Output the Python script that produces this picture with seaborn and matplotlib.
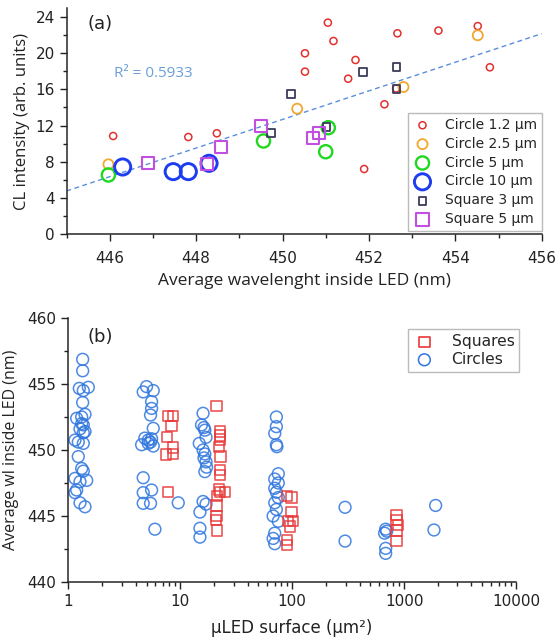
import numpy as np
import pandas as pd
import matplotlib
matplotlib.use("Agg")
import matplotlib.pyplot as plt
from matplotlib.ticker import FixedLocator, LogLocator, NullFormatter, FuncFormatter
import seaborn as sns

# ---------------- panel (a): CL intensity vs average wavelength ----------------
c12_x = [446.08, 447.82, 448.48, 450.52, 450.52, 451.05, 451.18, 451.52, 451.69, 451.89,
         452.36, 452.63, 452.66, 453.61, 454.52, 454.80]
c12_y = [10.84, 10.73, 11.14, 19.99, 17.96, 23.38, 21.35, 17.18, 19.25, 7.19,
         14.35, 16.10, 22.20, 22.50, 23.00, 18.44]
c25_x = [445.97, 450.34, 452.80, 454.52]
c25_y = [7.71, 13.86, 16.26, 21.98]
c5_x = [445.97, 449.56, 451.00, 451.06]
c5_y = [6.53, 10.29, 9.10, 11.76]
c10_x = [446.30, 447.47, 447.82, 448.30]
c10_y = [7.41, 6.90, 6.90, 7.82]
s3_x = [449.73, 450.20, 451.02, 451.87, 452.64, 452.64]
s3_y = [11.14, 15.52, 11.84, 17.92, 18.50, 16.00]
s5_x = [446.89, 448.25, 448.58, 449.51, 450.71, 450.85]
s5_y = [7.89, 7.78, 9.66, 11.95, 10.65, 11.14]

trend_x = [445.0, 456.0]
trend_y = [4.76, 22.16]
r2_text = "R² = 0.5933"

# ---------------- panel (b): average wavelength vs µLED surface ----------------
circ_x = [1.344, 1.344, 1.254, 1.361, 1.51, 1.344, 1.188, 1.317, 1.41, 1.361, 1.272, 1.41, 1.317,
          1.361, 1.148, 1.228, 1.361, 1.228, 1.317, 1.361, 1.148, 1.272, 1.46, 1.188, 1.148,
          1.272, 1.41,
          5.0, 4.67, 5.74, 5.55, 5.55, 5.43, 5.74, 4.83, 5.18, 5.55, 4.52, 5.18, 5.74, 5.43,
          4.67, 4.67, 5.55, 4.67, 5.43, 5.94, 9.6,
          16.0, 15.5, 16.3, 16.6, 17.0, 14.8, 16.0, 16.6, 16.3, 17.0, 17.2, 16.6, 16.0, 17.0,
          15.0, 15.0, 15.0,
          72.3, 72.3, 69.9, 72.3, 73.1, 75.2, 69.9, 75.2, 69.9, 72.3, 75.2, 69.9, 72.3, 67.6,
          75.2, 69.9, 67.6, 69.9,
          297, 297, 685, 700, 670, 685, 685, 1914, 1850]
circ_y = [456.87, 456.0, 454.67, 454.5, 454.75, 453.6, 452.4, 452.5, 452.7, 451.9, 451.6, 451.4,
          452.0, 451.3, 450.75, 450.6, 450.5, 449.5, 448.6, 448.4, 447.85, 447.6, 447.7, 446.97,
          446.77, 446.0, 445.7,
          454.8, 454.4, 454.5, 453.66, 453.15, 452.65, 451.64, 450.9, 450.75, 450.85, 450.4,
          450.5, 450.3, 450.6, 447.9, 446.77, 446.97, 445.96, 445.96, 444.0, 446.0,
          452.78, 451.9, 451.7, 451.5, 450.96, 450.5, 450.0, 449.7, 449.4, 449.1, 448.7, 448.36,
          446.1, 445.9, 445.3, 444.07, 443.4,
          452.5, 451.77, 451.26, 450.4, 450.25, 448.2, 447.8, 447.5, 447.1, 446.8, 446.4, 446.0,
          445.5, 445.0, 444.6, 443.7, 443.3, 442.9,
          445.66, 443.1, 444.0, 443.85, 443.7, 442.55, 442.17, 445.8, 443.94]
sq_x = [7.8, 8.67, 8.38, 7.66, 8.67, 7.45, 8.56, 7.8,
        21.1, 22.6, 22.6, 22.6, 22.3, 22.9, 22.6, 22.6, 22.3, 22.6, 21.3, 25.1, 21.1, 21.1,
        20.8, 21.3,
        90.3, 98.6, 98.6, 92.0, 101.9, 95.5, 90.3, 90.3,
        857, 857, 887, 857, 857]
sq_y = [452.58, 452.58, 451.8, 451.0, 450.2, 449.67, 449.7, 446.84,
        453.33, 451.4, 451.1, 450.8, 450.25, 449.5, 448.5, 448.1, 447.0, 446.8, 446.5, 446.8,
        445.8, 445.0, 444.7, 443.9,
        446.5, 446.4, 445.3, 444.6, 444.6, 444.2, 443.2, 442.8,
        445.1, 444.7, 444.3, 443.9, 443.1]

sns.set_style("ticks")
plt.rcParams["font.family"] = ["DejaVu Sans"]
plt.rcParams["axes.linewidth"] = 1.1
plt.rcParams["xtick.major.width"] = 1.0
plt.rcParams["ytick.major.width"] = 1.0
plt.rcParams["xtick.color"] = "#222222"
plt.rcParams["ytick.color"] = "#222222"

fig = plt.figure(figsize=(5.6, 6.41), dpi=100)
ax1 = fig.add_axes([66.5 / 560, 1 - 234 / 641, 475.2 / 560, 226 / 641])
ax2 = fig.add_axes([68.3 / 560, 1 - 582 / 641, 447.7 / 560, 264 / 641])

# series for panel (a): (x, y, label, marker, color, size, linewidth)
series_a = [
    (c12_x, c12_y, "Circle 1.2 µm", "o", "#e2302f", 26, 1.1),
    (c25_x, c25_y, "Circle 2.5 µm", "o", "#f0a830", 52, 1.3),
    (c5_x, c5_y, "Circle 5 µm", "o", "#1fd81f", 90, 1.7),
    (c10_x, c10_y, "Circle 10 µm", "o", "#1e3cf0", 135, 2.1),
    (s3_x, s3_y, "Square 3 µm", "s", "#3b3b5c", 32, 1.3),
    (s5_x, s5_y, "Square 5 µm", "s", "#c14fe0", 78, 1.5),
]

ax1.plot(trend_x, trend_y, linestyle=(0, (3.5, 2.5)), color="#5b8fdc", lw=1.0, zorder=1)
for xs, ys, lab, mk, col, s, lw in series_a:
    df = pd.DataFrame({"x": xs, "y": ys})
    sns.scatterplot(data=df, x="x", y="y", ax=ax1, marker=mk, s=s, color=col,
                    facecolor="none", edgecolor=col, linewidth=lw, label=lab, zorder=3)

ax1.set_xlim(445, 456)
ax1.set_ylim(0, 25)
ax1.xaxis.set_major_locator(FixedLocator([446, 448, 450, 452, 454, 456]))
ax1.xaxis.set_minor_locator(FixedLocator([445, 447, 449, 451, 453, 455]))
ax1.yaxis.set_major_locator(FixedLocator([0, 4, 8, 12, 16, 20, 24]))
ax1.yaxis.set_minor_locator(FixedLocator([2, 6, 10, 14, 18, 22]))
ax1.tick_params(axis="both", which="major", length=5, labelsize=11, direction="out")
ax1.tick_params(axis="x", which="major", pad=7)
ax1.tick_params(axis="both", which="minor", length=3, width=1.0, direction="out")
ax1.set_xlabel("Average wavelenght inside LED (nm)", fontsize=12.5, family="Open Sans",
               color="#222222", labelpad=5)
ax1.set_ylabel("CL intensity (arb. units)", fontsize=12, family="Open Sans",
               color="#222222", labelpad=4)
sns.despine(ax=ax1)
ax1.text(446.1, 17.8, r2_text, color="#6a9fd8", fontsize=11, family="Open Sans",
         ha="left", va="center")
ax1.text(0.045, 0.93, "(a)", transform=ax1.transAxes, fontsize=13, color="#222222",
         ha="left", va="center")
leg1 = ax1.legend(loc="lower right", bbox_to_anchor=(1.0, 0.013), borderaxespad=0,
                  fontsize=10, frameon=True, fancybox=False, edgecolor="#aaaaaa",
                  handletextpad=0.9, labelspacing=0.35, borderpad=0.35, handlelength=1.4)
leg1.get_frame().set_linewidth(1.0)

# ---------------- panel (b) ----------------
df_sq = pd.DataFrame({"x": sq_x, "y": sq_y})
df_ci = pd.DataFrame({"x": circ_x, "y": circ_y})
sns.scatterplot(data=df_sq, x="x", y="y", ax=ax2, marker="s", s=55, color="#e83838",
                facecolor="none", edgecolor="#e83838", linewidth=1.2, alpha=0.85,
                label="Squares", zorder=3)
sns.scatterplot(data=df_ci, x="x", y="y", ax=ax2, marker="o", s=72, color="#2f76de",
                facecolor="none", edgecolor="#2f76de", linewidth=1.1, alpha=0.85,
                label="Circles", zorder=2)
ax2.set_xscale("log")
ax2.set_xlim(1, 10000)
ax2.set_ylim(440, 460)
ax2.xaxis.set_major_locator(FixedLocator([1, 10, 100, 1000, 10000]))
ax2.xaxis.set_major_formatter(FuncFormatter(lambda v, p: f"{v:g}"))
ax2.xaxis.set_minor_locator(LogLocator(base=10, subs=np.arange(2, 10), numticks=20))
ax2.xaxis.set_minor_formatter(NullFormatter())
ax2.yaxis.set_major_locator(FixedLocator([440, 445, 450, 455, 460]))
ax2.yaxis.set_minor_locator(FixedLocator([442.5, 447.5, 452.5, 457.5]))
ax2.tick_params(axis="both", which="major", length=5, labelsize=11, direction="out")
ax2.tick_params(axis="both", which="minor", length=3, width=1.0, direction="out")
ax2.set_xlabel("µLED surface (µm²)", fontsize=12, color="#222222", labelpad=7)
ax2.set_ylabel("Average wl inside LED (nm)", fontsize=11.5, family="Open Sans",
               color="#222222", labelpad=6)
sns.despine(ax=ax2)
ax2.text(0.044, 0.928, "(b)", transform=ax2.transAxes, fontsize=13, color="#222222",
         ha="left", va="center")
leg2 = ax2.legend(loc="upper right", bbox_to_anchor=(1.007, 0.958), borderaxespad=0,
                  fontsize=11.2, frameon=True, fancybox=False, edgecolor="#aaaaaa",
                  handletextpad=1.0, labelspacing=0.2, borderpad=0.3, handlelength=1.5)
leg2.get_frame().set_linewidth(1.0)
for h in leg2.legend_handles:
    h.set_alpha(1.0)

fig.savefig("out.png", dpi=100)
